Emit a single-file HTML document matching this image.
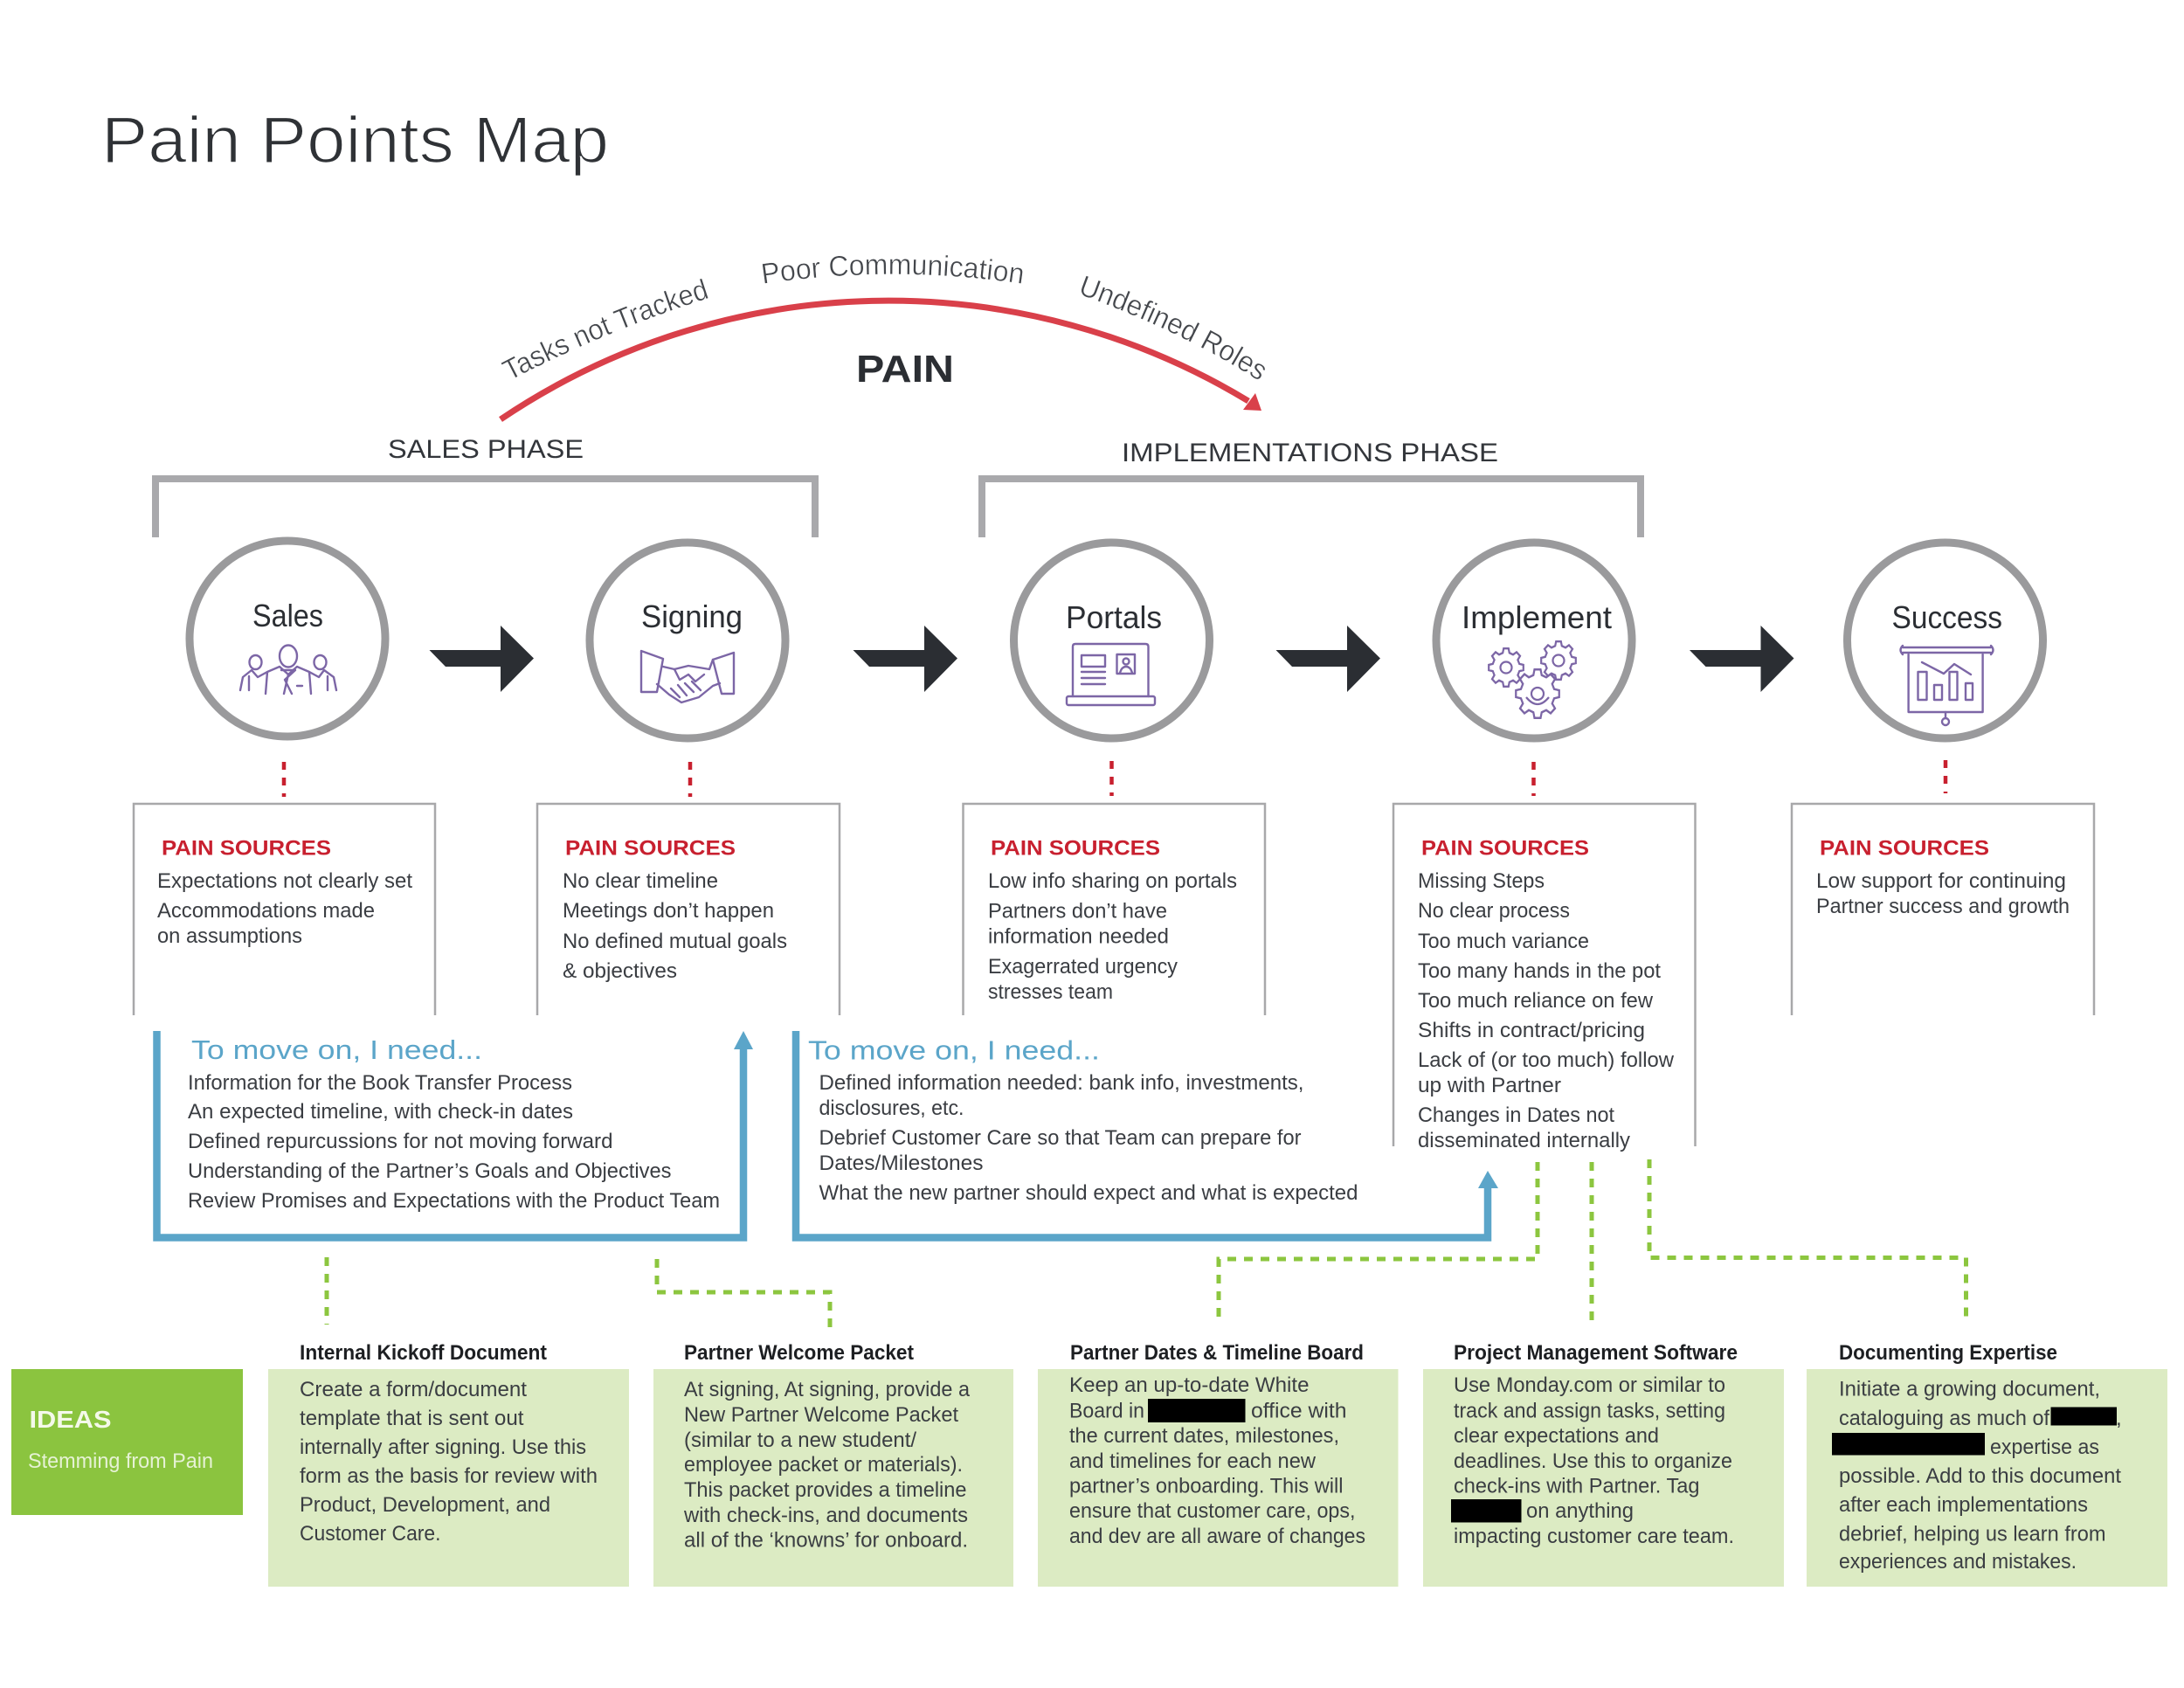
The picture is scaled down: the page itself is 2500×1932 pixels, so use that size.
<!DOCTYPE html>
<html lang="en">
<head>
<meta charset="utf-8">
<title>Pain Points Map</title>
<style>
html,body{margin:0;padding:0;background:#fff}
svg{display:block}
text{font-family:"Liberation Sans",sans-serif;fill:#3a3d42}
.b{font-size:24px}
.t{font-size:24px;font-weight:700;fill:#1d1f22}
.r{font-size:24px;font-weight:700;fill:#c8202f}
.c{font-size:36px;fill:#2b2e33}
.n{font-size:31px;fill:#5ba5c9}
.p{font-size:30px;fill:#33363b}
.a{font-size:33px;fill:#44474c;stroke:#fff;stroke-width:.5px;paint-order:normal}
.i{fill:none;stroke:#7c66a6;stroke-width:2.4;stroke-linejoin:round;stroke-linecap:round}
</style>
</head>
<body>
<svg xmlns="http://www.w3.org/2000/svg" width="2500" height="1932" viewBox="0 0 2500 1932">
<defs>
<polygon id="gear" points="76,-19 99,-14 99,14 76,19 67,40 80,60 60,80 40,67 19,76 14,99 -14,99 -19,76 -40,67 -60,80 -80,60 -67,40 -76,19 -99,14 -99,-14 -76,-19 -67,-40 -80,-60 -60,-80 -40,-67 -19,-76 -14,-99 14,-99 19,-76 40,-67 60,-80 80,-60 67,-40"/>
<path id="arw" d="M491.5 744H573V716L611 753.5L573 792V763H510Z" fill="#2b2e33"/>
<path id="pa1" d="M583 436Q695 378 815 340L850 330"/>
<path id="pa2" d="M873 325Q1022 303 1171 325L1210 333"/>
<path id="pa3" d="M1233 336Q1350 378 1441 436L1480 462"/>
</defs>
<rect width="2500" height="1932" fill="#fff"/>

<!-- Title -->
<text x="116" y="186" font-size="75" textLength="581" lengthAdjust="spacingAndGlyphs" style="fill:#2f3236;stroke:#fff;stroke-width:1.6px">Pain Points Map</text>

<!-- Pain arc -->
<path d="M573 480A795 795 0 0 1 1429 459" fill="none" stroke="#d9404a" stroke-width="7"/>
<polygon points="1444,470 1423,469 1437,450" fill="#d9404a"/>
<text class="a"><textPath href="#pa1" textLength="249" lengthAdjust="spacingAndGlyphs">Tasks not Tracked</textPath></text>
<text class="a"><textPath href="#pa2" textLength="299" lengthAdjust="spacingAndGlyphs">Poor Communication</textPath></text>
<text class="a"><textPath href="#pa3" textLength="232" lengthAdjust="spacingAndGlyphs">Undefined Roles</textPath></text>
<text x="980" y="437" font-size="44" font-weight="700" textLength="112" lengthAdjust="spacingAndGlyphs" style="fill:#2b2e33">PAIN</text>

<!-- Phases -->
<text class="p" x="444" y="524" textLength="224" lengthAdjust="spacingAndGlyphs">SALES PHASE</text>
<text class="p" x="1284" y="528" textLength="431" lengthAdjust="spacingAndGlyphs">IMPLEMENTATIONS PHASE</text>
<path d="M178 615V548H933V615" fill="none" stroke="#a9a9ac" stroke-width="8"/>
<path d="M1124 615V548H1878V615" fill="none" stroke="#a9a9ac" stroke-width="8"/>

<!-- Circles -->
<g fill="#fff" stroke="#9a9a9c" stroke-width="9">
<circle cx="329" cy="731" r="112"/>
<circle cx="787" cy="733" r="112"/>
<circle cx="1272.5" cy="733" r="112"/>
<circle cx="1756" cy="733" r="112"/>
<circle cx="2226.5" cy="733" r="112"/>
</g>
<text class="c" x="289" y="717" textLength="81" lengthAdjust="spacingAndGlyphs">Sales</text>
<text class="c" x="734" y="718" textLength="116" lengthAdjust="spacingAndGlyphs">Signing</text>
<text class="c" x="1220" y="719" textLength="110" lengthAdjust="spacingAndGlyphs">Portals</text>
<text class="c" x="1673" y="719" textLength="172" lengthAdjust="spacingAndGlyphs">Implement</text>
<text class="c" x="2165.5" y="719" textLength="126.5" lengthAdjust="spacingAndGlyphs">Success</text>

<!-- Icons: people -->
<g class="i">
<ellipse cx="330" cy="751" rx="10" ry="12.5"/>
<ellipse cx="292.5" cy="758" rx="7" ry="8"/>
<ellipse cx="366.5" cy="758" rx="7" ry="8"/>
<path d="M275 790L278 775L288 767L295 775L306 769M285 790V774M306 769L320 763L330 772L340 763L354 769L365 775L371 767L382 775L385 790M354 769L356 794M375 790V774M306 769L304 794"/>
<path d="M322 767L338 767L326 778L334 794M338 767L326 778M330 772L325 794M340 785H346"/>
</g>
<!-- Icons: handshake -->
<g class="i">
<path d="M734 745L759 754L752 792L734 792L734 745Z"/>
<path d="M840 747L816 755L826 794L840 794L840 747Z"/>
<path d="M759 763L772 766L788 762L812 766L816 755M752 783L766 795L780 804L800 798L816 785L824 782"/>
<path d="M772 766L778 778L788 772L796 780L806 772M768 788L778 798M776 784L786 796M784 782L794 792M792 780L802 790"/>
</g>
<!-- Icons: laptop -->
<g class="i">
<path d="M1228 797V740Q1228 737 1231 737H1311Q1314.5 737 1314.5 740V797"/>
<rect x="1221" y="797" width="101" height="10" rx="2"/>
<rect x="1238" y="750" width="27" height="13"/>
<path d="M1238 769H1265M1238 776H1265M1238 783H1265"/>
<rect x="1278.5" y="749" width="20.5" height="22"/>
<circle cx="1289" cy="757" r="3.5"/>
<path d="M1282 770Q1284 763 1289 763Q1294 763 1296 770"/>
</g>
<!-- Icons: gears -->
<g fill="#fff" stroke="#7c66a6">
<use href="#gear" transform="translate(1724 764) scale(.2 .22)" stroke-width="11"/>
<circle cx="1724" cy="764" r="6.5" fill="none" stroke-width="2.2"/>
<use href="#gear" transform="translate(1784 756) scale(.2 .22)" stroke-width="11"/>
<circle cx="1784" cy="756" r="6.5" fill="none" stroke-width="2.2"/>
<use href="#gear" transform="translate(1760 794) scale(.25 .28)" stroke-width="9"/>
<circle cx="1760" cy="794" r="7" fill="none" stroke-width="2.2"/>
<path d="M1747 798Q1760 814 1773 798" fill="none" stroke-width="2.2"/>
</g>
<!-- Icons: presentation -->
<g class="i">
<path d="M2178 741H2279M2178 747H2279"/>
<path d="M2178 739Q2173 744 2178 749M2279 739Q2284 744 2279 749"/>
<path d="M2184.6 749V815H2269.6V749"/>
<rect x="2195.5" y="769" width="10" height="32"/>
<rect x="2214" y="784" width="9" height="17"/>
<rect x="2231.5" y="769" width="9" height="32"/>
<rect x="2250" y="782" width="8" height="19"/>
<path d="M2200 758L2225 771L2237 760L2256 772"/>
<path d="M2227 815V822"/>
<circle cx="2227" cy="826" r="4"/>
</g>

<!-- Arrows -->
<use href="#arw"/>
<use href="#arw" transform="translate(485 0)"/>
<use href="#arw" transform="translate(969 0)"/>
<use href="#arw" transform="translate(1442.5 0)"/>

<!-- Red dots -->
<g fill="none" stroke="#c8202f" stroke-width="4.5" stroke-dasharray="9 9">
<path d="M325 872V912"/><path d="M790 872V912"/><path d="M1272.5 871V911"/><path d="M1755.5 872V911"/><path d="M2227 870V908"/>
</g>

<!-- Pain source boxes -->
<g fill="none" stroke="#a8a8aa" stroke-width="2.5">
<path d="M153 1162V920H498V1162"/>
<path d="M615 1162V920H961V1162"/>
<path d="M1102.5 1162V920H1448V1162"/>
<path d="M1595 1312V920H1940.5V1312"/>
<path d="M2051 1162V920H2397V1162"/>
</g>
<text class="r" x="185" y="978.5" textLength="194" lengthAdjust="spacingAndGlyphs">PAIN SOURCES</text>
<text class="r" x="647" y="978.5" textLength="195" lengthAdjust="spacingAndGlyphs">PAIN SOURCES</text>
<text class="r" x="1134" y="978.5" textLength="194" lengthAdjust="spacingAndGlyphs">PAIN SOURCES</text>
<text class="r" x="1627" y="978.5" textLength="192" lengthAdjust="spacingAndGlyphs">PAIN SOURCES</text>
<text class="r" x="2083" y="978.5" textLength="194" lengthAdjust="spacingAndGlyphs">PAIN SOURCES</text>

<text class="b" x="180" y="1016" textLength="292" lengthAdjust="spacingAndGlyphs">Expectations not clearly set</text>
<text class="b" x="180" y="1050" textLength="249" lengthAdjust="spacingAndGlyphs">Accommodations made</text>
<text class="b" x="180" y="1079" textLength="166" lengthAdjust="spacingAndGlyphs">on assumptions</text>

<text class="b" x="644" y="1016" textLength="178" lengthAdjust="spacingAndGlyphs">No clear timeline</text>
<text class="b" x="644" y="1050" textLength="242" lengthAdjust="spacingAndGlyphs">Meetings don’t happen</text>
<text class="b" x="644" y="1085" textLength="257" lengthAdjust="spacingAndGlyphs">No defined mutual goals</text>
<text class="b" x="644" y="1119" textLength="131" lengthAdjust="spacingAndGlyphs">&amp; objectives</text>

<text class="b" x="1131" y="1016" textLength="285" lengthAdjust="spacingAndGlyphs">Low info sharing on portals</text>
<text class="b" x="1131" y="1050.5" textLength="205" lengthAdjust="spacingAndGlyphs">Partners don’t have</text>
<text class="b" x="1131" y="1079.5" textLength="207" lengthAdjust="spacingAndGlyphs">information needed</text>
<text class="b" x="1131" y="1114" textLength="217" lengthAdjust="spacingAndGlyphs">Exagerrated urgency</text>
<text class="b" x="1131" y="1143" textLength="143" lengthAdjust="spacingAndGlyphs">stresses team</text>

<text class="b" x="1623" y="1016" textLength="145" lengthAdjust="spacingAndGlyphs">Missing Steps</text>
<text class="b" x="1623" y="1050" textLength="174" lengthAdjust="spacingAndGlyphs">No clear process</text>
<text class="b" x="1623" y="1085" textLength="196" lengthAdjust="spacingAndGlyphs">Too much variance</text>
<text class="b" x="1623" y="1119" textLength="278" lengthAdjust="spacingAndGlyphs">Too many hands in the pot</text>
<text class="b" x="1623" y="1153" textLength="269" lengthAdjust="spacingAndGlyphs">Too much reliance on few</text>
<text class="b" x="1623" y="1187" textLength="260" lengthAdjust="spacingAndGlyphs">Shifts in contract/pricing</text>
<text class="b" x="1623" y="1221" textLength="293" lengthAdjust="spacingAndGlyphs">Lack of (or too much) follow</text>
<text class="b" x="1623" y="1250" textLength="164" lengthAdjust="spacingAndGlyphs">up with Partner</text>
<text class="b" x="1623" y="1284" textLength="225" lengthAdjust="spacingAndGlyphs">Changes in Dates not</text>
<text class="b" x="1623" y="1313" textLength="243" lengthAdjust="spacingAndGlyphs">disseminated internally</text>

<text class="b" x="2079" y="1016" textLength="286" lengthAdjust="spacingAndGlyphs">Low support for continuing</text>
<text class="b" x="2079" y="1045" textLength="290" lengthAdjust="spacingAndGlyphs">Partner success and growth</text>

<!-- Blue boxes -->
<g fill="none" stroke="#5ba5c9" stroke-width="8.5">
<path d="M179.5 1180V1416.5H851V1196"/>
<path d="M911 1180V1416.5H1703V1356"/>
</g>
<polygon points="851,1180 840,1201 862,1201" fill="#5ba5c9"/>
<polygon points="1703,1340 1692,1360 1715,1360" fill="#5ba5c9"/>
<text class="n" x="219" y="1212" textLength="333" lengthAdjust="spacingAndGlyphs">To move on, I need...</text>
<text class="n" x="925" y="1212.5" textLength="334" lengthAdjust="spacingAndGlyphs">To move on, I need...</text>

<text class="b" x="215" y="1247" textLength="440" lengthAdjust="spacingAndGlyphs">Information for the Book Transfer Process</text>
<text class="b" x="215" y="1280" textLength="441" lengthAdjust="spacingAndGlyphs">An expected timeline, with check-in dates</text>
<text class="b" x="215" y="1314" textLength="486.5" lengthAdjust="spacingAndGlyphs">Defined repurcussions for not moving forward</text>
<text class="b" x="215" y="1348" textLength="553.5" lengthAdjust="spacingAndGlyphs">Understanding of the Partner’s Goals and Objectives</text>
<text class="b" x="215" y="1382" textLength="609" lengthAdjust="spacingAndGlyphs">Review Promises and Expectations with the Product Team</text>

<text class="b" x="937.5" y="1247" textLength="555" lengthAdjust="spacingAndGlyphs">Defined information needed: bank info, investments,</text>
<text class="b" x="937.5" y="1276" textLength="166" lengthAdjust="spacingAndGlyphs">disclosures, etc.</text>
<text class="b" x="937.5" y="1310" textLength="552" lengthAdjust="spacingAndGlyphs">Debrief Customer Care so that Team can prepare for</text>
<text class="b" x="937.5" y="1339" textLength="188" lengthAdjust="spacingAndGlyphs">Dates/Milestones</text>
<text class="b" x="937.5" y="1373" textLength="617" lengthAdjust="spacingAndGlyphs">What the new partner should expect and what is expected</text>

<!-- Green dashed -->
<g fill="none" stroke="#8cc63f" stroke-width="5" stroke-dasharray="10 9">
<path d="M374 1439V1516"/>
<path d="M752 1441V1479H950V1522"/>
<path d="M1760 1330V1441H1395V1513"/>
<path d="M1822 1330V1519"/>
<path d="M1888 1327V1439.5H2250.5V1512"/>
</g>

<!-- Ideas -->
<rect x="13" y="1567" width="265" height="167" fill="#8bc43f"/>
<text x="33.5" y="1634" font-size="28" font-weight="700" textLength="94" lengthAdjust="spacingAndGlyphs" style="fill:#f4f9ea">IDEAS</text>
<text x="32" y="1680" font-size="24" textLength="212" lengthAdjust="spacingAndGlyphs" style="fill:#e6f2d5">Stemming from Pain</text>

<g fill="#dcebc3">
<rect x="307" y="1567" width="413" height="249"/>
<rect x="748" y="1567" width="412" height="249"/>
<rect x="1188" y="1567" width="412.5" height="249"/>
<rect x="1629" y="1567" width="413" height="249"/>
<rect x="2068" y="1567" width="413" height="249"/>
</g>

<text class="t" x="343" y="1556" textLength="283" lengthAdjust="spacingAndGlyphs">Internal Kickoff Document</text>
<text class="t" x="783" y="1556" textLength="263" lengthAdjust="spacingAndGlyphs">Partner Welcome Packet</text>
<text class="t" x="1225" y="1556" textLength="336" lengthAdjust="spacingAndGlyphs">Partner Dates &amp; Timeline Board</text>
<text class="t" x="1664" y="1556" textLength="325" lengthAdjust="spacingAndGlyphs">Project Management Software</text>
<text class="t" x="2105" y="1556" textLength="250" lengthAdjust="spacingAndGlyphs">Documenting Expertise</text>

<text class="b" x="343" y="1598" textLength="260" lengthAdjust="spacingAndGlyphs">Create a form/document</text>
<text class="b" x="343" y="1631" textLength="256.5" lengthAdjust="spacingAndGlyphs">template that is sent out</text>
<text class="b" x="343" y="1664" textLength="328" lengthAdjust="spacingAndGlyphs">internally after signing. Use this</text>
<text class="b" x="343" y="1697" textLength="341" lengthAdjust="spacingAndGlyphs">form as the basis for review with</text>
<text class="b" x="343" y="1730" textLength="287" lengthAdjust="spacingAndGlyphs">Product, Development, and</text>
<text class="b" x="343" y="1763" textLength="161.5" lengthAdjust="spacingAndGlyphs">Customer Care.</text>

<text class="b" x="783" y="1598" textLength="327" lengthAdjust="spacingAndGlyphs">At signing, At signing, provide a</text>
<text class="b" x="783" y="1627" textLength="314" lengthAdjust="spacingAndGlyphs">New Partner Welcome Packet</text>
<text class="b" x="783" y="1656" textLength="266" lengthAdjust="spacingAndGlyphs">(similar to a new student/</text>
<text class="b" x="783" y="1684" textLength="319" lengthAdjust="spacingAndGlyphs">employee packet or materials).</text>
<text class="b" x="783" y="1713" textLength="323.5" lengthAdjust="spacingAndGlyphs">This packet provides a timeline</text>
<text class="b" x="783" y="1742" textLength="325" lengthAdjust="spacingAndGlyphs">with check-ins, and documents</text>
<text class="b" x="783" y="1770.5" textLength="325" lengthAdjust="spacingAndGlyphs">all of the ‘knowns’ for onboard.</text>

<text class="b" x="1224" y="1593" textLength="274.5" lengthAdjust="spacingAndGlyphs">Keep an up-to-date White</text>
<text class="b" x="1224" y="1622.5" textLength="86" lengthAdjust="spacingAndGlyphs">Board in</text>
<rect x="1314" y="1601" width="111.5" height="27" fill="#000"/>
<text class="b" x="1432" y="1622.5" textLength="109.5" lengthAdjust="spacingAndGlyphs">office with</text>
<text class="b" x="1224" y="1651" textLength="309" lengthAdjust="spacingAndGlyphs">the current dates, milestones,</text>
<text class="b" x="1224" y="1680" textLength="282" lengthAdjust="spacingAndGlyphs">and timelines for each new</text>
<text class="b" x="1224" y="1708.5" textLength="313.5" lengthAdjust="spacingAndGlyphs">partner’s onboarding. This will</text>
<text class="b" x="1224" y="1737" textLength="327.5" lengthAdjust="spacingAndGlyphs">ensure that customer care, ops,</text>
<text class="b" x="1224" y="1766" textLength="339" lengthAdjust="spacingAndGlyphs">and dev are all aware of changes</text>

<text class="b" x="1664" y="1593" textLength="311" lengthAdjust="spacingAndGlyphs">Use Monday.com or similar to</text>
<text class="b" x="1664" y="1622.5" textLength="311" lengthAdjust="spacingAndGlyphs">track and assign tasks, setting</text>
<text class="b" x="1664" y="1651" textLength="235" lengthAdjust="spacingAndGlyphs">clear expectations and</text>
<text class="b" x="1664" y="1680" textLength="319" lengthAdjust="spacingAndGlyphs">deadlines. Use this to organize</text>
<text class="b" x="1664" y="1708.5" textLength="281.5" lengthAdjust="spacingAndGlyphs">check-ins with Partner. Tag</text>
<rect x="1661" y="1716" width="80.5" height="26.5" fill="#000"/>
<text class="b" x="1747" y="1737" textLength="123" lengthAdjust="spacingAndGlyphs">on anything</text>
<text class="b" x="1664" y="1766" textLength="321" lengthAdjust="spacingAndGlyphs">impacting customer care team.</text>

<text class="b" x="2105" y="1597.5" textLength="299" lengthAdjust="spacingAndGlyphs">Initiate a growing document,</text>
<text class="b" x="2105" y="1631" textLength="241" lengthAdjust="spacingAndGlyphs">cataloguing as much of</text>
<text class="b" x="2422" y="1631">,</text>
<rect x="2347.5" y="1610.5" width="75.5" height="21" fill="#000"/>
<rect x="2097" y="1640" width="175" height="25.5" fill="#000"/>
<text class="b" x="2278" y="1664" textLength="125" lengthAdjust="spacingAndGlyphs">expertise as</text>
<text class="b" x="2105" y="1697" textLength="323" lengthAdjust="spacingAndGlyphs">possible. Add to this document</text>
<text class="b" x="2105" y="1730" textLength="285" lengthAdjust="spacingAndGlyphs">after each implementations</text>
<text class="b" x="2105" y="1763.5" textLength="305.5" lengthAdjust="spacingAndGlyphs">debrief, helping us learn from</text>
<text class="b" x="2105" y="1795" textLength="272" lengthAdjust="spacingAndGlyphs">experiences and mistakes.</text>
</svg>
</body>
</html>
